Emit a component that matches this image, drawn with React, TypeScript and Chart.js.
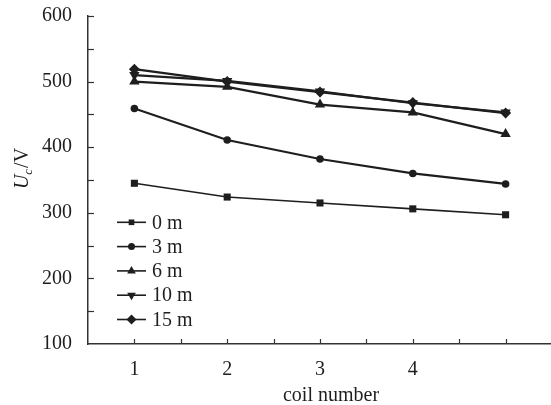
import React, { useEffect, useRef } from 'react';
import { Chart, registerables } from 'chart.js';

Chart.register(...registerables);

const xValues = [1, 2, 3, 4, 5];
const seriesNames = ['0 m', '3 m', '6 m', '10 m', '15 m'];
const s0m = [345, 324, 315, 306, 297];
const s3m = [459, 411, 382, 360, 344];
const s6m = [500, 492, 465, 453, 420];
const s10m = [510, 501, 485, 467, 453];
const s15m = [519, 500, 484, 468, 452];
const yTickLabels = [100, 200, 300, 400, 500, 600];
const xTickLabels = [1, 2, 3, 4];
const xTitle = 'coil number';

const FONT = "'Liberation Serif', 'Times New Roman', serif";
const INK = '#1e1e1e';
const OY = 12; // canvas is shifted up by this many pixels
const CW = 558;
const CH = 405 + OY;

const markerStyles = [
  { style: 'rect', r: 5, rot: 0, lr: 4 },
  { style: 'circle', r: 3.8, rot: 0, lr: 3.5 },
  { style: 'triangle', r: 6, rot: 0, lr: 5 },
  { style: 'triangle', r: 6, rot: 180, lr: 5 },
  { style: 'rectRot', r: 5.5, rot: 0, lr: 5 },
];

function drawMarker(ctx: CanvasRenderingContext2D, style: string, x: number, y: number, r: number, rotDeg: number) {
  ctx.beginPath();
  if (style === 'circle') {
    ctx.arc(x, y, r, 0, Math.PI * 2);
  } else if (style === 'rect') {
    const s = Math.SQRT1_2 * r;
    ctx.rect(x - s, y - s, 2 * s, 2 * s);
  } else if (style === 'rectRot') {
    ctx.moveTo(x, y - r);
    ctx.lineTo(x + r, y);
    ctx.lineTo(x, y + r);
    ctx.lineTo(x - r, y);
    ctx.closePath();
  } else if (style === 'triangle') {
    let rad = (rotDeg * Math.PI) / 180;
    ctx.moveTo(x + Math.sin(rad) * r, y - Math.cos(rad) * r);
    rad += (2 * Math.PI) / 3;
    ctx.lineTo(x + Math.sin(rad) * r, y - Math.cos(rad) * r);
    rad += (2 * Math.PI) / 3;
    ctx.lineTo(x + Math.sin(rad) * r, y - Math.cos(rad) * r);
    ctx.closePath();
  }
  ctx.fill();
}

const decorPlugin = {
  id: 'decor',
  afterDraw(chart: any) {
    const ctx: CanvasRenderingContext2D = chart.ctx;
    const xs = chart.scales.x;
    const ys = chart.scales.y;
    const area = chart.chartArea;
    ctx.save();
    // inward ticks
    ctx.strokeStyle = '#333';
    ctx.lineWidth = 1.2;
    for (let v = 1; v <= 5.001; v += 0.5) {
      const px = Math.round(xs.getPixelForValue(v)) + 0.5;
      ctx.beginPath();
      ctx.moveTo(px, area.bottom);
      ctx.lineTo(px, area.bottom - 5);
      ctx.stroke();
    }
    for (let v = 150; v <= 600; v += 50) {
      const py = Math.round(ys.getPixelForValue(v)) + 0.5;
      ctx.beginPath();
      ctx.moveTo(area.left, py);
      ctx.lineTo(area.left + 6, py);
      ctx.stroke();
    }
    // x title
    ctx.fillStyle = INK;
    ctx.font = `20px ${FONT}`;
    ctx.textAlign = 'center';
    ctx.textBaseline = 'alphabetic';
    ctx.fillText(xTitle, 331, 401 + OY);
    // y title: U_c/V
    ctx.translate(28, 168.5 + OY);
    ctx.rotate(-Math.PI / 2);
    ctx.textAlign = 'left';
    const fU = `italic 20px ${FONT}`;
    const fc = `italic 13px ${FONT}`;
    const fV = `20px ${FONT}`;
    ctx.font = fU;
    const wU = ctx.measureText('U').width;
    ctx.font = fc;
    const wc = ctx.measureText('c').width;
    ctx.font = fV;
    const wV = ctx.measureText('/V').width;
    let u = -(wU + wc + 1 + wV) / 2;
    ctx.font = fU;
    ctx.fillText('U', u, 0);
    u += wU;
    ctx.font = fc;
    ctx.fillText('c', u, 4);
    u += wc + 1;
    ctx.font = fV;
    ctx.fillText('/V', u, 0);
    ctx.restore();

    // legend
    ctx.save();
    ctx.font = `20px ${FONT}`;
    ctx.textAlign = 'left';
    ctx.textBaseline = 'middle';
    chart.data.datasets.forEach((ds: any, i: number) => {
      const y = 222.3 + i * 24.3 + OY;
      ctx.strokeStyle = INK;
      ctx.lineWidth = 1.6;
      ctx.beginPath();
      ctx.moveTo(117, y);
      ctx.lineTo(146, y);
      ctx.stroke();
      ctx.fillStyle = INK;
      const m = markerStyles[i];
      drawMarker(ctx, m.style, 131.5, y, m.lr, m.rot);
      ctx.fillText(ds.label, 152, y + 1);
    });
    ctx.restore();
  },
};

export default function App() {
  const ref = useRef<HTMLCanvasElement | null>(null);
  useEffect(() => {
    if (!ref.current) return;
    const allSeries = [s0m, s3m, s6m, s10m, s15m];
    const datasets = allSeries.map((vals, i) => ({
      label: seriesNames[i],
      data: xValues.map((x, j) => ({ x, y: vals[j] })),
      borderColor: INK,
      backgroundColor: INK,
      borderWidth: i === 0 ? 1.6 : 2.2,
      pointStyle: markerStyles[i].style,
      pointRadius: markerStyles[i].r,
      pointRotation: markerStyles[i].rot,
      pointBorderWidth: 0,
      pointBackgroundColor: INK,
      tension: 0,
    }));
    const chart = new Chart(ref.current, {
      type: 'line',
      data: { datasets },
      plugins: [decorPlugin],
      options: {
        animation: false,
        responsive: false,
        devicePixelRatio: 1,
        layout: { padding: { top: 4, left: 0, right: 0, bottom: 0 } },
        plugins: { legend: { display: false }, tooltip: { enabled: false } },
        scales: {
          x: {
            type: 'linear',
            min: 0.5,
            max: 5.5,
            afterBuildTicks: (s: any) => {
              s.ticks = xTickLabels.map((v) => ({ value: v }));
            },
            afterFit: (s: any) => {
              s.height = 61;
            },
            grid: { display: false, drawTicks: false },
            border: { display: true, color: '#333', width: 1.5 },
            ticks: {
              color: INK,
              font: { family: FONT, size: 20 },
              padding: 14,
              maxRotation: 0,
              autoSkip: false,
              callback: (v: any) => String(v),
            },
          },
          y: {
            type: 'linear',
            min: 100,
            max: 600,
            afterBuildTicks: (s: any) => {
              s.ticks = yTickLabels.map((v) => ({ value: v }));
            },
            afterFit: (s: any) => {
              s.width = 88;
            },
            grid: { display: false, drawTicks: false },
            border: { display: true, color: '#333', width: 1.5 },
            ticks: {
              color: INK,
              font: { family: FONT, size: 20 },
              padding: 16,
              autoSkip: false,
              callback: (v: any) => String(v),
            },
          },
        },
      },
    });
    return () => chart.destroy();
  }, []);
  return (
    <div style={{ position: 'fixed', left: 0, top: 0, width: 551, height: 405, overflow: 'hidden', background: '#fff' }}>
      <canvas ref={ref} width={CW} height={CH} style={{ position: 'absolute', left: 0, top: -OY }} />
    </div>
  );
}
